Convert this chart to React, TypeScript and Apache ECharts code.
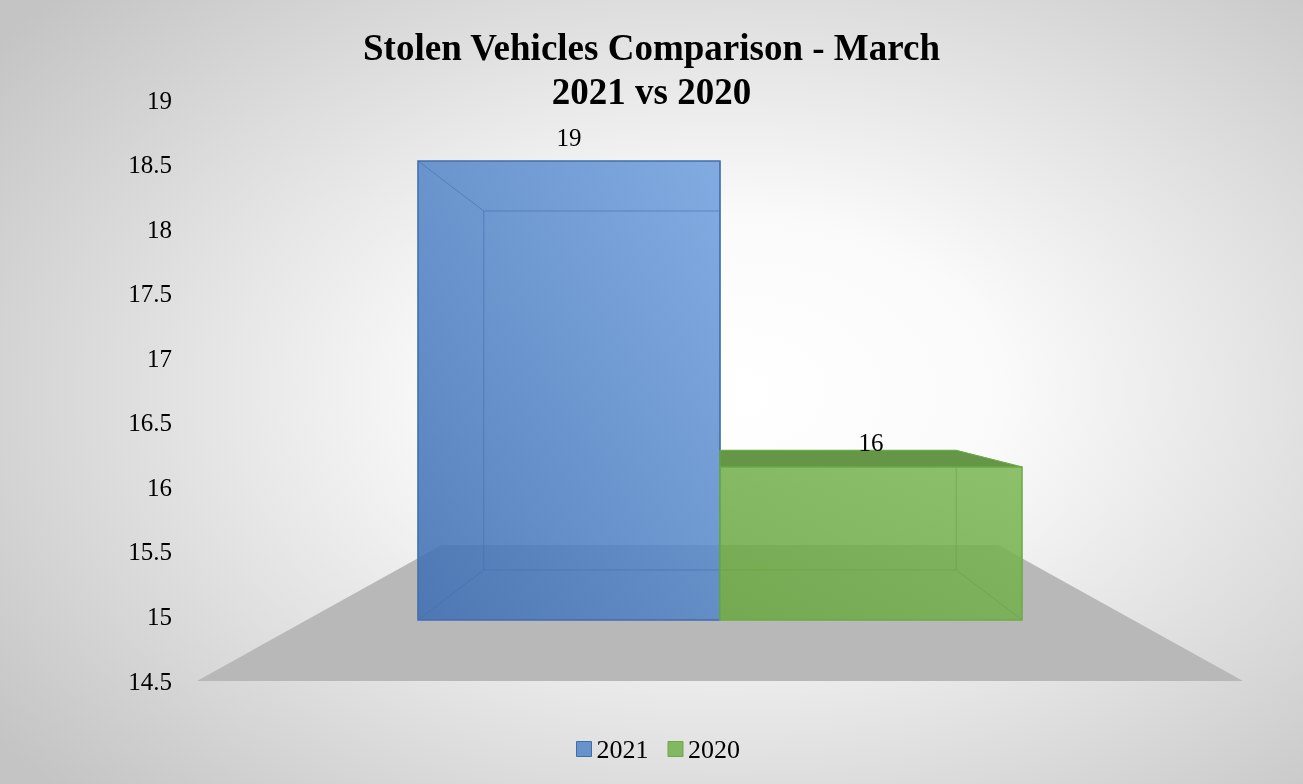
import React, { useEffect, useRef } from "react";
import * as echarts from "echarts";

const categories = ["March"];
const seriesNames = ["2021", "2020"];
const values2021 = [19];
const values2020 = [16];
const yMin = 14.5;
const yMax = 19;
const yInterval = 0.5;
const titleText = "Stolen Vehicles Comparison - March\n2021 vs 2020";

// perspective constants (style)
const Z_FRONT = 0.2658;
const Z_BACK = 0.6184;
const Z_FLOOR = 0.88;
const BAR_FRAC = 0.3655;
const FONT = "'Liberation Serif', 'Times New Roman', serif";

function proj(vx: number, vy: number, X: number, Y: number, z: number) {
  const s = 1 / (1 + z);
  return [vx + (X - vx) * s, vy + (Y - vy) * s];
}

function makeBox(side: number, cfg: any) {
  return (params: any, api: any) => {
    const cs = params.coordSys;
    const cat = api.value(0);
    const val = api.value(1);
    const [vx, base] = api.coord([cat, yMin]);
    const top = api.coord([cat, val])[1];
    const vy = cs.y + cs.height / 2;
    const band = api.size([1, 0])[0];
    const barW = band * BAR_FRAC;
    const x0 = side === 0 ? vx - barW : vx;
    const x1 = x0 + barW;
    const P = (X: number, Y: number, z: number) => proj(vx, vy, X, Y, z);
    const fTL = P(x0, top, Z_FRONT), fTR = P(x1, top, Z_FRONT);
    const fBL = P(x0, base, Z_FRONT), fBR = P(x1, base, Z_FRONT);
    const bTL = P(x0, top, Z_BACK), bTR = P(x1, top, Z_BACK);
    const bBL = P(x0, base, Z_BACK), bBR = P(x1, base, Z_BACK);
    const children: any[] = [];
    children.push({
      type: "polygon",
      shape: { points: [fTL, fTR, fBR, fBL] },
      style: {
        fill: new echarts.graphic.LinearGradient(0, 1, 1, 0, [
          { offset: 0, color: cfg.frontA },
          { offset: 1, color: cfg.frontB },
        ]),
      },
    });
    if (top > vy) {
      children.push({
        type: "polygon",
        shape: { points: [fTL, fTR, bTR, bTL] },
        style: { fill: cfg.topFill },
      });
    }
    const lineStyle = { stroke: cfg.inner, lineWidth: 1, fill: null };
    children.push({ type: "polygon", shape: { points: [bTL, bTR, bBR, bBL] }, style: lineStyle });
    [[fTL, bTL], [fTR, bTR], [fBL, bBL], [fBR, bBR]].forEach((pair) => {
      children.push({
        type: "line",
        shape: { x1: pair[0][0], y1: pair[0][1], x2: pair[1][0], y2: pair[1][1] },
        style: { stroke: cfg.inner, lineWidth: 1 },
      });
    });
    if (top > vy) {
      children.push({ type: "polyline", shape: { points: [fTL, bTL, bTR, fTR] }, style: { stroke: cfg.edge, lineWidth: 1, fill: null } });
    }
    children.push({
      type: "polygon",
      shape: { points: [fTL, fTR, fBR, fBL] },
      style: { stroke: cfg.edge, lineWidth: 1.5, fill: null },
    });
    children.push({
      type: "text",
      style: {
        text: String(val),
        x: (fTL[0] + fTR[0]) / 2,
        y: fTL[1] - 24,
        align: "center",
        verticalAlign: "middle",
        fill: "#000",
        fontSize: 25,
        fontFamily: FONT,
      },
    });
    return { type: "group", children };
  };
}

function renderFloor(params: any, api: any) {
  const cs = params.coordSys;
  const cat = api.value(0);
  const [vx, base] = api.coord([cat, yMin]);
  const vy = cs.y + cs.height / 2;
  const band = api.size([1, 0])[0];
  const xl = vx - band / 2, xr = vx + band / 2;
  const P = (X: number, Y: number, z: number) => proj(vx, vy, X, Y, z);
  return {
    type: "polygon",
    shape: { points: [P(xl, base, 0), P(xr, base, 0), P(xr, base, Z_FLOOR), P(xl, base, Z_FLOOR)] },
    style: { fill: "#b8b8b8" },
  };
}

const blueCfg = {
  frontA: "rgba(62,110,178,0.87)",
  frontB: "rgba(112,160,222,0.87)",
  topFill: "rgba(60,100,160,0.86)",
  inner: "rgba(66,110,175,0.6)",
  edge: "#416eab",
};
const greenCfg = {
  frontA: "rgba(106,166,66,0.87)",
  frontB: "rgba(124,184,86,0.87)",
  topFill: "rgba(80,134,46,0.88)",
  inner: "rgba(100,165,60,0.6)",
  edge: "#6aab48",
};

export default function App() {
  const ref = useRef<HTMLDivElement>(null);
  useEffect(() => {
    if (!ref.current) return;
    const chart = echarts.init(ref.current, null, { renderer: "svg" });
    chart.setOption({
      animation: false,
      title: {
        text: titleText,
        left: "center",
        top: 25,
        padding: 0,
        textStyle: { fontFamily: FONT, fontSize: 37, fontWeight: "bold", lineHeight: 44, color: "#000" },
      },
      legend: {
        left: 576,
        top: 736,
        itemWidth: 15,
        itemHeight: 15,
        itemGap: 19,
        padding: 0,
        textStyle: { fontFamily: FONT, fontSize: 26, color: "#000" },
        data: [
          { name: seriesNames[0], icon: "rect", itemStyle: { color: "#6892cb", borderColor: "#3f6daa", borderWidth: 1 } },
          { name: seriesNames[1], icon: "rect", itemStyle: { color: "#82b862", borderColor: "#6aab48", borderWidth: 1 } },
        ],
      },
      grid: { left: 197, right: 60, top: 100, bottom: 103 },
      xAxis: {
        type: "category",
        data: categories,
        show: false,
      },
      yAxis: {
        type: "value",
        min: yMin,
        max: yMax,
        interval: yInterval,
        axisLine: { show: false },
        axisTick: { show: false },
        splitLine: { show: false },
        axisLabel: { margin: 25, fontFamily: FONT, fontSize: 25, color: "#000" },
      },
      series: [
        {
          type: "custom",
          name: "floor",
          clip: false,
          z: 1,
          renderItem: renderFloor,
          data: categories.map((_, i) => [i, yMin]),
        },
        {
          type: "custom",
          name: seriesNames[0],
          clip: false,
          z: 2,
          itemStyle: { color: "#6892cb" },
          renderItem: makeBox(0, blueCfg),
          data: values2021.map((v, i) => [i, v]),
        },
        {
          type: "custom",
          name: seriesNames[1],
          clip: false,
          z: 3,
          itemStyle: { color: "#82b862" },
          renderItem: makeBox(1, greenCfg),
          data: values2020.map((v, i) => [i, v]),
        },
      ],
    });
    return () => chart.dispose();
  }, []);
  return (
    <div
      ref={ref}
      style={{
        position: "fixed",
        left: 0,
        top: 0,
        width: 1303,
        height: 784,
        background: "radial-gradient(ellipse 70% 75% at 56% 50%, #ffffff 0%, #fafafa 30%, #c4c4c4 100%)",
      }}
    />
  );
}
